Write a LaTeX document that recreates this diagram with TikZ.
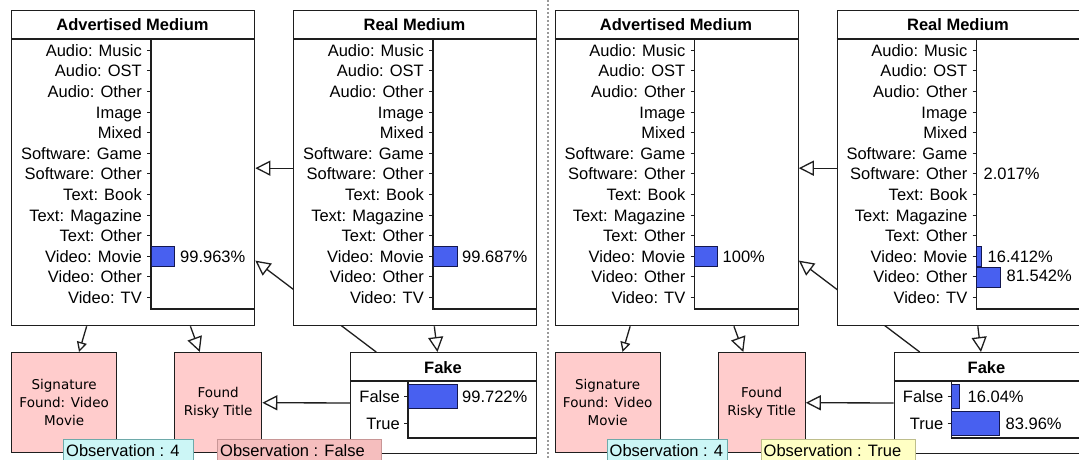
\documentclass[tikz,border=0pt]{standalone}
\usepackage{fontspec}
\setmainfont{Liberation Sans}
\newfontfamily\tahfont{DejaVu Sans}
\usetikzlibrary{arrows.meta}
\pgfdeclarelayer{bg}
\pgfsetlayers{bg,main}

\definecolor{barblue}{RGB}{72,96,240}
\definecolor{barline}{RGB}{20,24,80}
\definecolor{pinkbox}{RGB}{255,204,204}
\definecolor{obscyan}{RGB}{204,246,246}
\definecolor{obscyanline}{RGB}{110,170,170}
\definecolor{obspink}{RGB}{245,190,190}
\definecolor{obspinkline}{RGB}{200,150,150}
\definecolor{obsyellow}{RGB}{255,255,196}
\definecolor{obsyellowline}{RGB}{190,190,140}
\definecolor{edgecol}{RGB}{30,30,30}

\tikzset{
  frame/.style={draw=edgecol, line width=1.3pt, fill=white, inner sep=0pt, anchor=north west},
  rowlab/.style={font=\fontsize{16.5}{18}\selectfont, inner sep=0pt, anchor=east, text height=12pt, text depth=0pt},
  titlelab/.style={font=\fontsize{16.5}{18}\selectfont\bfseries, inner sep=0pt, text height=12pt, text depth=0pt},
  pctlab/.style={font=\fontsize{16.5}{18}\selectfont, inner sep=0pt, anchor=west, text height=12pt, text depth=0pt},
  tickline/.style={draw=edgecol, line width=1pt},
  innerline/.style={draw=edgecol, line width=1.3pt},
  bar/.style={draw=barline, fill=barblue, line width=1pt},
  evidence/.style={draw=edgecol, line width=1.3pt, fill=pinkbox, inner sep=0pt, anchor=north west,
    font=\tahfont\fontsize{13.5}{18}\selectfont, align=center},
  obsbox/.style={line width=1pt, inner sep=0pt, anchor=north west, minimum height=26pt},
  obstext/.style={font=\fontsize{16.5}{18}\selectfont, inner sep=0pt, anchor=west, text height=12pt, text depth=0pt},
  link/.style={draw=edgecol, line width=1.3pt, -{Triangle[length=15pt,width=15pt,fill=white]}},
  smalllink/.style={draw=edgecol, line width=1.3pt, -{Triangle[length=10pt,width=10pt,fill=white]}},
  sepline/.style={draw=gray!80, line width=1.5pt, dash pattern=on 2pt off 2pt},
}

% medium box: #1 name, #2 left x, #3 title
\newcommand\medbox[3]{%
  \node[frame, minimum width=243pt, minimum height=315pt] (#1) at (#2,10) {};
  \node[titlelab] (#1-title) at (#2+121.5,24.5) {#3};
  \draw[innerline] (#2,39) -- (#2+243,39);
  \draw[innerline] (#2+140,39) -- (#2+140,309) -- (#2+243,309);
  \foreach \lab [count=\i from 0] in {Audio: Music,Audio: OST,Audio: Other,Image,Mixed,Software: Game,Software: Other,Text: Book,Text: Magazine,Text: Other,Video: Movie,Video: Other,Video: TV}{
    \node[rowlab] (#1-r\i) at (#2+131,50.4+20.58*\i) {\lab};
    \draw[tickline] (#2+136,50.4+20.58*\i) -- (#2+140,50.4+20.58*\i);
  }%
}

% fake box: #1 name, #2 left x
\newcommand\fakebox[2]{%
  \node[frame, minimum width=186pt, minimum height=101pt] (#1) at (#2,352) {};
  \node[titlelab] (#1-title) at (#2+93,367) {Fake};
  \draw[innerline] (#2,381) -- (#2+186,381);
  \draw[innerline] (#2+58,381) -- (#2+58,438) -- (#2+186,438);
  \node[rowlab] (#1-r0) at (#2+50,396) {False};
  \draw[tickline] (#2+54,396) -- (#2+58,396);
  \node[rowlab] (#1-r1) at (#2+50,423) {True};
  \draw[tickline] (#2+54,423) -- (#2+58,423);
}

\begin{document}
\begin{tikzpicture}[x=1pt,y=-1pt]
\useasboundingbox (0,0) rectangle (1079,459);
\begin{pgfonlayer}{bg}
  \fill[white] (0,0) rectangle (1079,459);
\end{pgfonlayer}

\draw[sepline] (548,0) -- (548,459);

% ---------------- left panel ----------------
\medbox{Ladv}{11}{Advertised Medium}
\medbox{Lreal}{293}{Real Medium}
\fakebox{Lfake}{350}
\node[evidence, minimum width=105pt, minimum height=100pt] (Lsig) at (11,352) {Signature\\Found: Video\\Movie};
\node[evidence, minimum width=87pt, minimum height=100pt] (Lfound) at (174,352) {Found\\Risky Title};

\draw[bar] (151,246.2) rectangle (174,266.2);
\node[pctlab] (Ladv-p) at (180,256.2) {99.963\%};
\draw[bar] (433,246.2) rectangle (457,266.2);
\node[pctlab] (Lreal-p) at (462,256.2) {99.687\%};
\draw[bar] (408,384) rectangle (457,408);
\node[pctlab] (Lfake-p) at (462,396) {99.722\%};

\draw[link] (Lreal) -- (Ladv);
\draw[link] (Lreal) -- (Lfake);
\draw[smalllink] (Ladv) -- (Lsig);
\draw[link] (Ladv) -- (Lfound);
\draw[link] (Lfake) -- (Lfound);
\begin{pgfonlayer}{bg}
  \draw[link] (Lfake) -- (Ladv);
\end{pgfonlayer}

\node[obsbox, fill=obscyan, draw=obscyanline, minimum width=130pt] (Lobs1) at (63,439) {};
\node[obstext] (Lobs1-t) at (66,450) {Observation : 4};
\node[obsbox, fill=obspink, draw=obspinkline, minimum width=164pt] (Lobs2) at (217,439) {};
\node[obstext] (Lobs2-t) at (220,450) {Observation : False};

% ---------------- right panel ----------------
\begin{scope}[xshift=543.5pt]
\medbox{Radv}{11}{Advertised Medium}
\medbox{Rreal}{293}{Real Medium}
\fakebox{Rfake}{350}
\node[evidence, minimum width=105pt, minimum height=100pt] (Rsig) at (11,352) {Signature\\Found: Video\\Movie};
\node[evidence, minimum width=87pt, minimum height=100pt] (Rfound) at (174,352) {Found\\Risky Title};

\draw[bar] (151,246.2) rectangle (174,266.2);
\node[pctlab] (Radv-p) at (179,256.2) {100\%};
\node[pctlab] (Rreal-p1) at (440,173.9) {2.017\%};
\draw[bar] (433,246.2) rectangle (437.5,266.2);
\node[pctlab] (Rreal-p2) at (444,256.2) {16.412\%};
\draw[bar] (433,267.5) rectangle (457,287);
\node[pctlab] (Rreal-p3) at (463,275.5) {81.542\%};
\draw[bar] (408,384) rectangle (416,408);
\node[pctlab] (Rfake-p1) at (424,396) {16.04\%};
\draw[bar] (408,411) rectangle (456,435);
\node[pctlab] (Rfake-p2) at (462,423) {83.96\%};

\draw[link] (Rreal) -- (Radv);
\draw[link] (Rreal) -- (Rfake);
\draw[smalllink] (Radv) -- (Rsig);
\draw[link] (Radv) -- (Rfound);
\draw[link] (Rfake) -- (Rfound);
\begin{pgfonlayer}{bg}
  \draw[link] (Rfake) -- (Radv);
\end{pgfonlayer}

\node[obsbox, fill=obscyan, draw=obscyanline, minimum width=120pt] (Robs1) at (63,439) {};
\node[obstext] (Robs1-t) at (66,450) {Observation : 4};
\node[obsbox, fill=obsyellow, draw=obsyellowline, minimum width=154pt] (Robs2) at (217,439) {};
\node[obstext] (Robs2-t) at (220,450) {Observation : True};
\end{scope}
\end{tikzpicture}
\end{document}
